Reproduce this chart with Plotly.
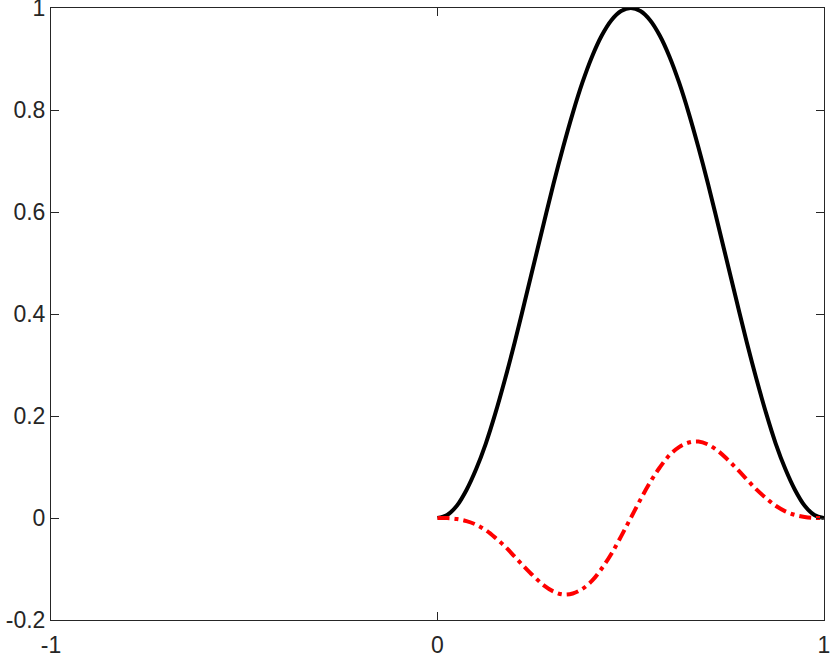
import plotly.graph_objects as go

x_vals = [0.0, 0.025, 0.05, 0.075, 0.1, 0.125, 0.15, 0.175, 0.2, 0.225, 0.25,
          0.275, 0.3, 0.325, 0.35, 0.375, 0.4, 0.425, 0.45, 0.475, 0.5,
          0.525, 0.55, 0.575, 0.6, 0.625, 0.65, 0.675, 0.7, 0.725, 0.75,
          0.775, 0.8, 0.825, 0.85, 0.875, 0.9, 0.925, 0.95, 0.975, 1.0]
black_vals = [0.0, 0.006, 0.024, 0.055, 0.096, 0.146, 0.206, 0.273, 0.345, 0.422, 0.5,
              0.578, 0.655, 0.727, 0.794, 0.854, 0.905, 0.946, 0.976, 0.994, 1.0,
              0.994, 0.976, 0.946, 0.905, 0.854, 0.794, 0.727, 0.655, 0.578, 0.5,
              0.422, 0.345, 0.273, 0.206, 0.146, 0.096, 0.055, 0.024, 0.006, 0.0]
red_vals = [0.0, -0.0002, -0.002, -0.006, -0.013, -0.024, -0.039, -0.056, -0.076, -0.096, -0.115,
            -0.132, -0.144, -0.150, -0.148, -0.139, -0.123, -0.099, -0.070, -0.036, 0.0,
            0.036, 0.070, 0.099, 0.123, 0.139, 0.148, 0.150, 0.144, 0.132, 0.115,
            0.096, 0.076, 0.056, 0.039, 0.024, 0.013, 0.006, 0.002, 0.0002, 0.0]
x_ticks = [-1, 0, 1]
y_ticks = [-0.2, 0, 0.2, 0.4, 0.6, 0.8, 1]
y_tick_labels = ["-0.2", "0", "0.2", "0.4", "0.6", "0.8", "1"]

fig = go.Figure()
fig.add_trace(go.Scatter(x=x_vals, y=black_vals, mode="lines",
                         line=dict(color="black", width=4, shape="spline")))
fig.add_trace(go.Scatter(x=x_vals, y=red_vals, mode="lines",
                         line=dict(color="red", width=4, shape="spline", dash="12px,5px,4px,5px")))

axis_common = dict(showgrid=False, zeroline=False, showline=True, linecolor="#262626",
                   linewidth=1, mirror="ticks", ticks="inside", ticklen=8, tickwidth=1,
                   tickcolor="#262626", automargin=False, ticklabeloverflow="allow",
                   tickfont=dict(family="Liberation Sans, Arial, sans-serif", size=23, color="#262626"))

fig.update_layout(
    width=830, height=657,
    margin=dict(l=51, r=6, t=8, b=37),
    plot_bgcolor="white", paper_bgcolor="white",
    showlegend=False,
    xaxis=dict(range=[-1, 1], tickvals=x_ticks, ticktext=[str(t) for t in x_ticks],
               ticklabelstandoff=4, **axis_common),
    yaxis=dict(range=[-0.2, 1], tickvals=y_ticks, ticktext=y_tick_labels, **axis_common),
)
fig.write_html("out.html", config={"displayModeBar": False},
               post_script="document.body.style.margin='0';document.body.style.overflow='hidden';")
